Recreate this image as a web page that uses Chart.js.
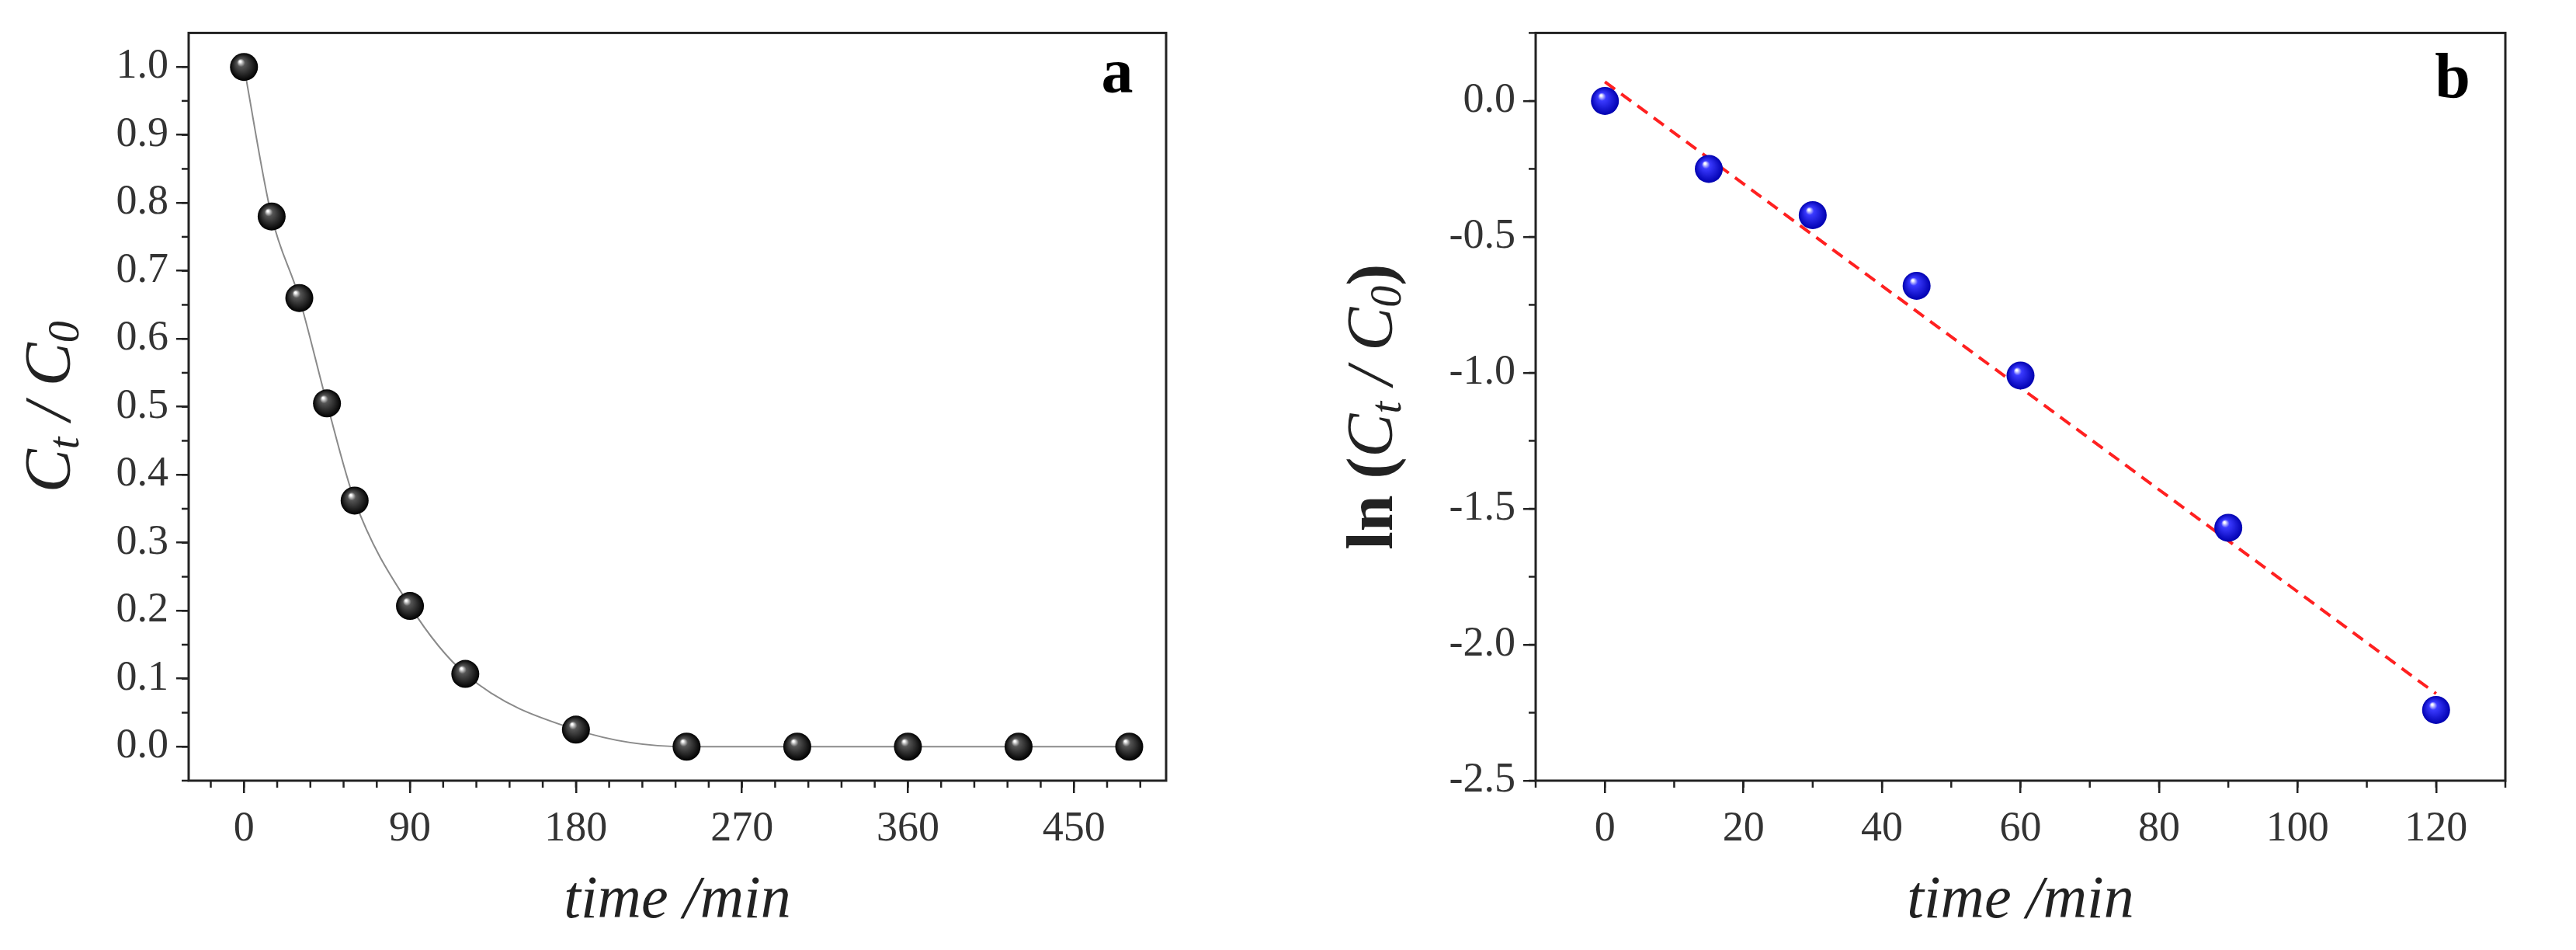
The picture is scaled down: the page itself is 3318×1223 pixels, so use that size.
<!DOCTYPE html>
<html><head><meta charset="utf-8">
<script src="https://cdn.jsdelivr.net/npm/chart.js@4"></script>
<style>body{margin:0;background:#fff;width:3318px;height:1223px;overflow:hidden}
canvas{position:absolute;top:0}</style></head>
<body>
<div style="position:absolute;left:0;top:0;width:1659px;height:1223px"><canvas id="ca"></canvas></div>
<div style="position:absolute;left:1659px;top:0;width:1659px;height:1223px"><canvas id="cb"></canvas></div>
<script>
const timeA=[0,15,30,45,60,90,120,180,240,300,360,420,480];
const ratioA=[1.0,0.78,0.66,0.505,0.362,0.207,0.107,0.025,0,0,0,0,0];
const timeB=[0,15,30,45,60,90,120];
const lnB=[0,-0.25,-0.42,-0.68,-1.01,-1.57,-2.24];
const fitX=[0,120];
const fitY=[0.07,-2.18];
const xTicksA=[0,90,180,270,360,450];
const yTicksA=[0,0.1,0.2,0.3,0.4,0.5,0.6,0.7,0.8,0.9,1.0];
const xTicksB=[0,20,40,60,80,100,120];
const yTicksB=[0,-0.5,-1.0,-1.5,-2.0,-2.5];

const F='"Liberation Serif", "DejaVu Serif", serif';
function frame(cfg){return{id:'frame',afterDraw(ch){
  const c=ch.ctx,a=ch.chartArea;c.save();c.strokeStyle='#222';c.lineWidth=3;
  c.strokeRect(a.left,a.top,a.right-a.left,a.bottom-a.top);
  const x=ch.scales.x,y=ch.scales.y;c.lineWidth=2.5;
  for(let v=cfg.xm0;v<=x.max;v+=cfg.xm){const p=x.getPixelForValue(v);if(p<a.left||p>a.right)continue;c.beginPath();c.moveTo(p,a.bottom);c.lineTo(p,a.bottom+9);c.stroke();}
  for(let v=cfg.ym0;v<=y.max+1e-9;v+=cfg.ym){const p=y.getPixelForValue(v);if(p<a.top||p>a.bottom)continue;c.beginPath();c.moveTo(a.left,p);c.lineTo(a.left-9,p);c.stroke();}
  const meta=ch.getDatasetMeta(cfg.ds);
  meta.data.forEach(pt=>{const r=18;
    const g=c.createRadialGradient(pt.x-5,pt.y-7,1,pt.x,pt.y,r);
    g.addColorStop(0,'#ffffff');g.addColorStop(0.25,cfg.hi);g.addColorStop(1,cfg.dark);
    c.fillStyle=g;c.beginPath();c.arc(pt.x,pt.y,r,0,Math.PI*2);c.fill();});
  c.fillStyle='#000';c.font='bold 82px '+F;c.textAlign='center';c.textBaseline='middle';
  c.fillText(cfg.letter,cfg.lx,cfg.ly);
  c.font='italic 78px '+F;c.fillStyle='#222';
  c.fillText('time /min',(a.left+a.right)/2,1160);
  c.save();c.translate(cfg.ytx,(a.top+a.bottom)/2);c.rotate(-Math.PI/2);
  const parts=cfg.ytitle;let tw=0;
  parts.forEach(p=>{c.font=p[1];tw+=c.measureText(p[0]).width;});
  let xx=-tw/2;c.textAlign='left';
  parts.forEach(p=>{c.font=p[1];c.fillText(p[0],xx,p[2]);xx+=c.measureText(p[0]).width;});
  c.restore();c.restore();}}}
function mk(id,cfg){
  const tickFont={family:F,size:54};
  return new Chart(document.getElementById(id),{type:'scatter',
   data:{datasets:cfg.datasets},
   options:{responsive:true,maintainAspectRatio:false,animation:false,
    layout:{padding:{top:42,right:cfg.pr,left:0,bottom:0}},
    plugins:{legend:{display:false},tooltip:{enabled:false}},
    scales:{
     x:{type:'linear',min:cfg.xmin,max:cfg.xmax,afterBuildTicks:s=>{s.ticks=cfg.xt.map(v=>({value:v}))},
        afterFit:s=>{s.height=218},
        grid:{drawOnChartArea:false,tickLength:16,color:'#222',lineWidth:2.5},border:{display:false},
        ticks:{font:tickFont,color:'#333',padding:14,maxRotation:0}},
     y:{type:'linear',min:cfg.ymin,max:cfg.ymax,afterBuildTicks:s=>{s.ticks=cfg.yt.map(v=>({value:v}))},
        afterFit:s=>{s.width=cfg.yw},
        grid:{drawOnChartArea:false,tickLength:16,color:'#222',lineWidth:2.5},border:{display:false},
        ticks:{font:tickFont,color:'#333',padding:10,callback:v=>v.toFixed(1)}}}},
   plugins:[frame(cfg)]});
}
const ctf='italic 84px '+F, sub='italic 56px '+F, bf='bold 84px '+F;
mk('ca',{xmin:-30,xmax:500,ymin:-0.05,ymax:1.05,xt:xTicksA,yt:yTicksA,yw:243,pr:1659-1502,
  xm:18,xm0:-18,ym:0.05,ym0:-0.05,ds:0,hi:'#555',dark:'#000',letter:'a',lx:1439,ly:98,ytx:68,
  ytitle:[['C',ctf,0],['t',sub,18],[' / ',ctf,0],['C',ctf,0],['0',sub,18]],
  datasets:[{data:timeA.map((t,i)=>({x:t,y:ratioA[i]})),showLine:true,borderColor:'#8a8a8a',borderWidth:2,
    cubicInterpolationMode:'monotone',pointRadius:18,pointBackgroundColor:'rgba(0,0,0,0)',pointBorderWidth:0}]});
mk('cb',{xmin:-10,xmax:130,ymin:-2.5,ymax:0.25,xt:xTicksB,yt:yTicksB,yw:319,pr:1659-1568,
  xm:10,xm0:-10,ym:0.25,ym0:-2.5,ds:1,hi:'#3a3aff',dark:'#0000b0',letter:'b',lx:1500,ly:104,ytx:112,
  ytitle:[['ln (',bf,0],['C',ctf,0],['t',sub,18],[' / ',ctf,0],['C',ctf,0],['0',sub,18],[')',bf,0]],
  datasets:[{data:fitX.map((t,i)=>({x:t,y:fitY[i]})),showLine:true,borderColor:'#ff2020',borderWidth:4,borderDash:[16,10],pointRadius:0},
    {data:timeB.map((t,i)=>({x:t,y:lnB[i]})),pointRadius:18,pointBackgroundColor:'rgba(0,0,0,0)',pointBorderWidth:0}]});
</script></body></html>
